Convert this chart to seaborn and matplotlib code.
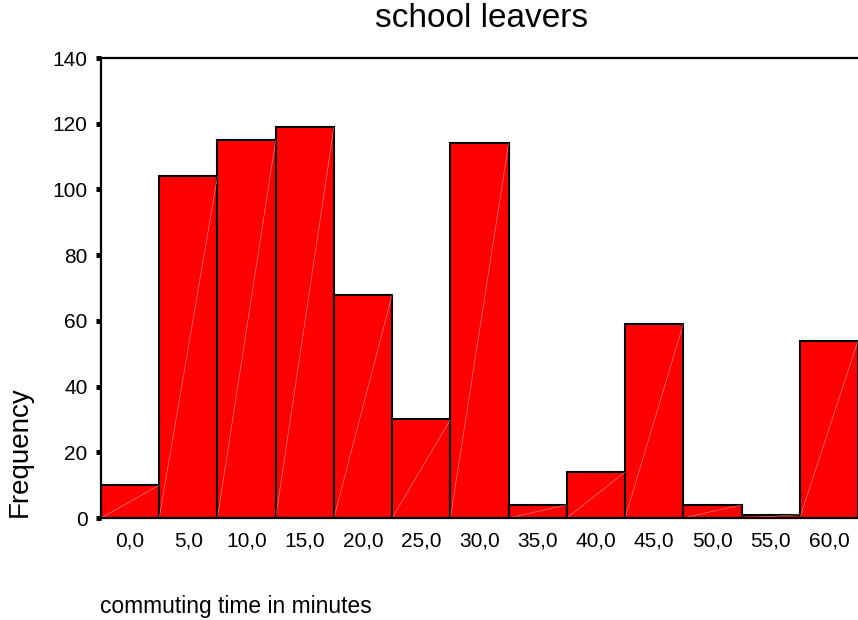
import matplotlib
matplotlib.use("Agg")
import matplotlib.pyplot as plt
import seaborn as sns
import numpy as np
import pandas as pd

# commuting time (bin centres, minutes) and counts
minutes = [0, 5, 10, 15, 20, 25, 30, 35, 40, 45, 50, 55, 60]
counts = [10, 104, 115, 119, 68, 30, 114, 4, 14, 59, 4, 1, 54]
y_ticks = [0, 20, 40, 60, 80, 100, 120, 140]
x_tick_labels = [f"{m:.1f}".replace(".", ",") for m in minutes]

df = pd.DataFrame({"minutes": minutes, "count": counts})

sns.set_style("white")
plt.rcParams['font.family'] = ['Liberation Sans', 'DejaVu Sans']
plt.rcParams['text.color'] = 'black'

fig = plt.figure(figsize=(8.58, 6.2), dpi=100)
ax = fig.add_axes([101 / 858, 102 / 620, 1 - 101 / 858, 460 / 620])

width = 5
edges = np.arange(minutes[0] - width / 2, minutes[-1] + width, width).tolist()
sns.histplot(data=df, x="minutes", weights="count", bins=edges, color="#ff0000", alpha=1,
             edgecolor="black", linewidth=1.5, ax=ax)

# faint diagonal seams like the SPSS rendering
for p in ax.patches:
    x0, y0 = p.get_x(), p.get_y()
    ax.plot([x0, x0 + p.get_width()], [y0, y0 + p.get_height()],
            color="white", lw=0.5, alpha=0.5, zorder=p.get_zorder() + 0.1)

ax.set_xlim(edges[0], edges[-1])
ax.set_ylim(0, 140)
ax.set_yticks(y_ticks)
ax.set_xticks(minutes)
ax.set_xticklabels(x_tick_labels)
ax.tick_params(axis='y', direction='out', length=3.6, width=3.6, pad=6, labelsize=15,
               left=True, colors='black')
ax.tick_params(axis='x', length=0, pad=9.5, labelsize=15, colors='black')
ax.set_xlabel("")
ax.set_ylabel("")

for side in ["left", "top", "bottom"]:
    ax.spines[side].set_visible(True)
    ax.spines[side].set_color("black")
    ax.spines[side].set_linewidth(1.6)
ax.spines["right"].set_visible(False)

fig.text(482 / 858, 1 - 27 / 620, "school leavers", ha="center", va="baseline", fontsize=24)
fig.text(100 / 858, 1 - 613 / 620, "commuting time in minutes", ha="left", va="baseline", fontsize=16.4)
fig.text(20 / 858, 1 - 517 / 620, "Frequency", ha="center", va="bottom", rotation=90, fontsize=20)

fig.savefig("out.png", dpi=100)
